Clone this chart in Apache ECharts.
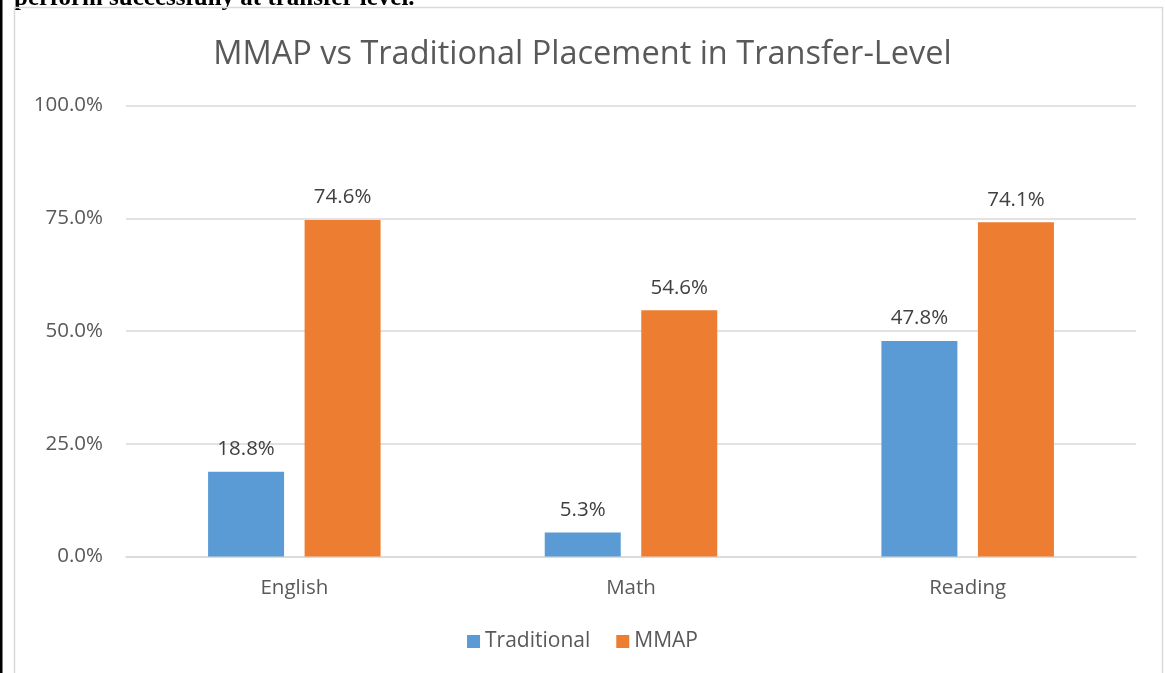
<!DOCTYPE html>
<html><head><meta charset="utf-8">
<script src="https://cdn.jsdelivr.net/npm/echarts@6/dist/echarts.min.js"></script>
<style>html,body{margin:0;padding:0;background:#fff;}#c{width:1165px;height:673px;}</style>
</head><body><div id="c"></div>
<script>
const categories = ['English', 'Math', 'Reading'];
const traditional = [18.8, 5.3, 47.8];
const mmap = [74.6, 54.6, 74.1];
const seriesNames = ['Traditional', 'MMAP'];
const titleText = 'MMAP vs Traditional Placement in Transfer-Level';
const pageText = 'perform successfully at transfer level.';

const chart = echarts.init(document.getElementById('c'), null, {renderer: 'canvas'});
const font = '"Open Sans", "Liberation Sans", sans-serif';
chart.setOption({
  animation: false,
  backgroundColor: '#fff',
  title: {
    text: titleText, left: 'center', top: 33,
    textStyle: {fontFamily: font, fontSize: 32.5, fontWeight: 'normal', color: '#595959'}
  },
  legend: {
    bottom: 16, left: 'center', itemWidth: 13, itemHeight: 13, itemGap: 26,
    icon: 'rect',
    textStyle: {fontFamily: font, fontSize: 21, color: '#595959'},
    data: seriesNames
  },
  grid: {left: 126, right: 29, top: 105.5, bottom: 116.5, containLabel: false},
  xAxis: {
    type: 'category', data: categories,
    axisLine: {lineStyle: {color: '#d9d9d9', width: 1.5}},
    axisTick: {show: false},
    axisLabel: {fontFamily: font, fontSize: 20.5, color: '#595959', margin: 21}
  },
  yAxis: {
    type: 'value', min: 0, max: 100, interval: 25,
    axisLine: {show: false}, axisTick: {show: false},
    splitLine: {lineStyle: {color: '#d9d9d9', width: 1.5}},
    axisLabel: {fontFamily: font, fontSize: 20.5, color: '#595959', margin: 23,
      formatter: v => v.toFixed(1) + '%'}
  },
  series: [
    {name: seriesNames[0], type: 'bar', data: traditional, barWidth: 76, barGap: '27%',
     itemStyle: {color: '#5b9bd5'},
     label: {show: true, position: 'top', distance: 12, fontFamily: font, fontSize: 20.5, color: '#404040',
       formatter: p => p.value.toFixed(1) + '%'}},
    {name: seriesNames[1], type: 'bar', data: mmap, barWidth: 76,
     itemStyle: {color: '#ed7d31'},
     label: {show: true, position: 'top', distance: 12, fontFamily: font, fontSize: 20.5, color: '#404040',
       formatter: p => p.value.toFixed(1) + '%'}}
  ],
  graphic: [
    {type: 'rect', shape: {x: 14.5, y: 7.5, width: 1148, height: 700}, z: -1,
     style: {fill: 'none', stroke: '#d9d9d9', lineWidth: 1.5}},
    {type: 'rect', shape: {x: 0, y: 0, width: 2.5, height: 673}, style: {fill: '#000'}},
    {type: 'text', x: 14, y: -14, z: -2, style: {text: pageText, font: 'bold 25px "Liberation Serif", "DejaVu Serif", serif', fill: '#000'}}
  ]
});
</script></body></html>
